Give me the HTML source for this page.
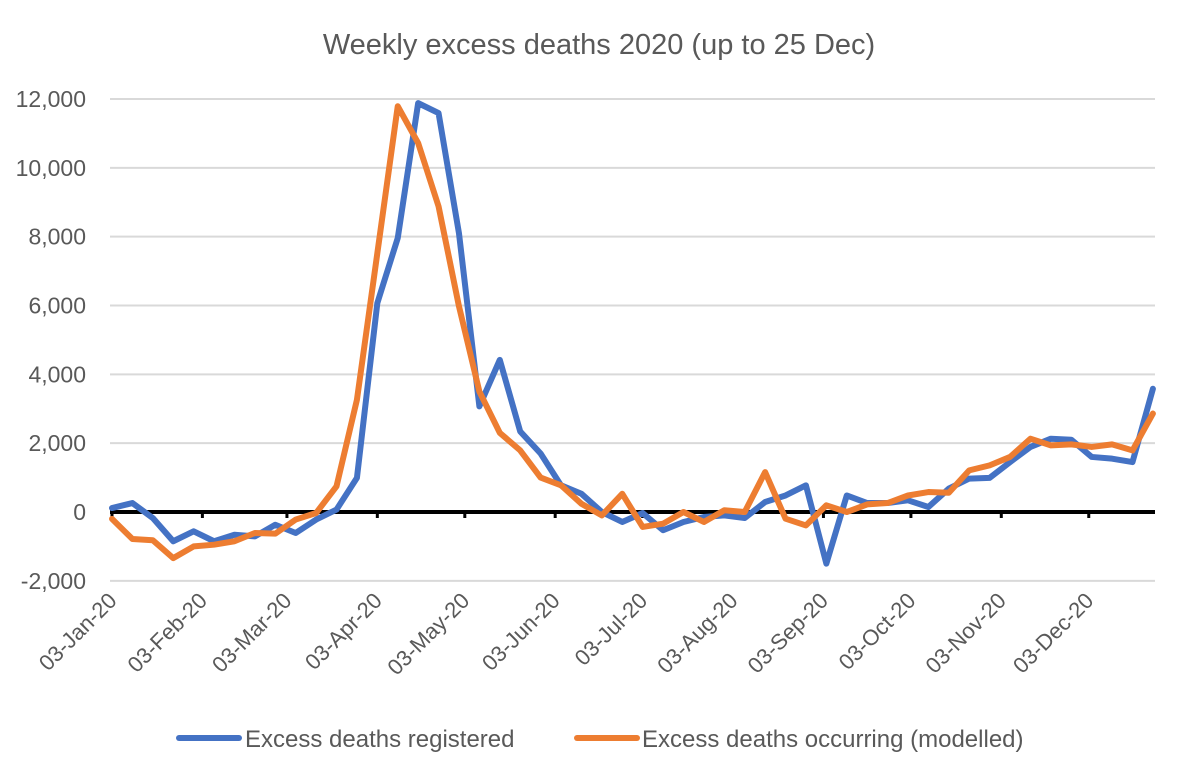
<!DOCTYPE html>
<html><head><meta charset="utf-8"><style>
body{margin:0;background:#fff;}
svg text{font-family:"Liberation Sans",sans-serif;fill:#595959;}
</style></head><body>
<svg id="chart" width="1200" height="779" xmlns="http://www.w3.org/2000/svg">
<text x="599" y="54" font-size="29" text-anchor="middle">Weekly excess deaths 2020 (up to 25 Dec)</text>
<g id="grid"></g><g id="axes"></g><g id="series"></g>
<g>
<line x1="179" y1="738" x2="239" y2="738" stroke="#4472C4" stroke-width="6" stroke-linecap="round"/>
<text x="245" y="747" font-size="24">Excess deaths registered</text>
<line x1="577" y1="738" x2="637" y2="738" stroke="#ED7D31" stroke-width="6" stroke-linecap="round"/>
<text x="642" y="747" font-size="24">Excess deaths occurring (modelled)</text>
</g>
</svg>
<script>
const yTicks=[-2000,0,2000,4000,6000,8000,10000,12000];
const yTickLabels=["-2,000","0","2,000","4,000","6,000","8,000","10,000","12,000"];
const xTickDays=[0,31,60,91,121,152,182,213,244,274,305,335];
const xTickLabels=["03-Jan-20","03-Feb-20","03-Mar-20","03-Apr-20","03-May-20","03-Jun-20","03-Jul-20","03-Aug-20","03-Sep-20","03-Oct-20","03-Nov-20","03-Dec-20"];
const registered=[115,260,-175,-850,-560,-850,-660,-710,-370,-610,-220,70,990,6070,7960,11880,11590,8100,3070,4420,2340,1700,775,530,0,-290,-30,-530,-290,-145,-100,-175,290,480,775,-1500,480,260,260,340,145,680,970,990,1450,1890,2130,2100,1600,1550,1450,3580];
const occurring=[-200,-785,-820,-1340,-1000,-950,-850,-610,-630,-220,-30,745,3260,7520,11790,10720,8880,5975,3500,2300,1790,1000,775,240,-100,530,-435,-340,0,-290,50,0,1160,-195,-390,195,0,220,260,480,580,560,1210,1355,1600,2130,1935,1965,1890,1965,1790,2860];
const NS="http://www.w3.org/2000/svg";
const x0=112,wk=20.41,xL=110,xR=1155;
const xW=i=>x0+i*wk, xD=d=>x0+d/7*wk;
const y=v=>512-v*413/12000;
function mk(t,a,p){const e=document.createElementNS(NS,t);for(const k in a)e.setAttribute(k,a[k]);p.appendChild(e);return e;}
const grid=document.getElementById('grid'),axes=document.getElementById('axes'),ser=document.getElementById('series');
yTicks.forEach((v,i)=>{
 if(v!==0){const g=mk('line',{x1:xL,x2:xR,y1:y(v),y2:y(v),stroke:'#d9d9d9','stroke-width':2},grid);
 
 }
 const t=mk('text',{x:86,y:y(v)+8,'font-size':23,'text-anchor':'end'},axes);t.textContent=yTickLabels[i];
 
 
});
const zl=mk('line',{x1:xL,x2:xR,y1:y(0),y2:y(0),stroke:'#000','stroke-width':4},axes);


xTickDays.forEach((d,i)=>{
 const x=xD(d);
 const tk=mk('line',{x1:x,x2:x,y1:y(0),y2:y(0)+6,stroke:'#000','stroke-width':3},axes);
 
 
 const t=mk('text',{x:x+6,y:602,'font-size':22,'text-anchor':'end',transform:`rotate(-45 ${x+6} 602)`},axes);t.textContent=xTickLabels[i];
 
 
});
function line(arr,col,name){
 const p=mk('polyline',{points:arr.map((v,i)=>xW(i)+','+y(v)).join(' '),fill:'none',stroke:col,'stroke-width':6,'stroke-linejoin':'round','stroke-linecap':'round'},ser);
 
 
}
line(registered,'#4472C4','registered-line');
line(occurring,'#ED7D31','occurring-line');
</script>
</body></html>
